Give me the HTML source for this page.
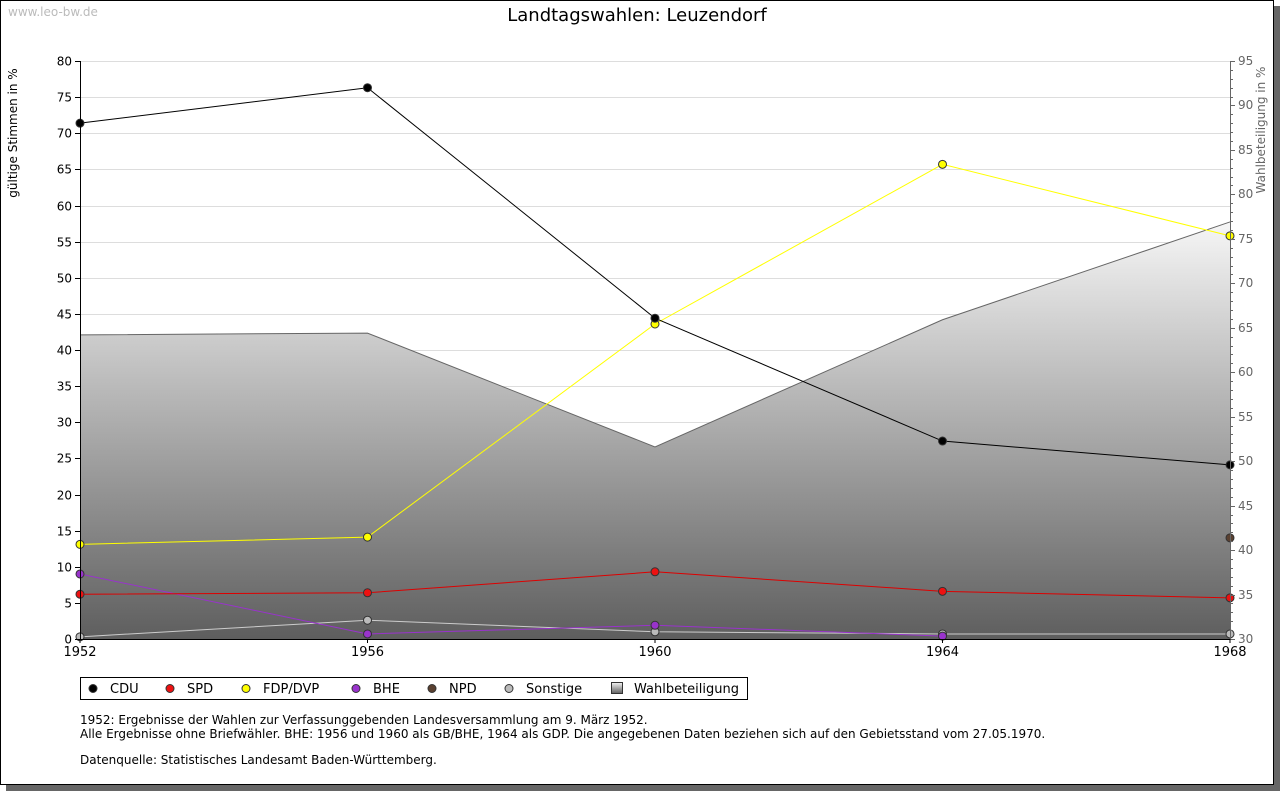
<!DOCTYPE html>
<html><head><meta charset="utf-8"><style>
body{margin:0;background:#fff;font-family:"DejaVu Sans","Liberation Sans",sans-serif;}
svg{display:block}
text{font-family:"DejaVu Sans","Liberation Sans",sans-serif}
</style></head><body>
<svg id="chart" width="1280" height="791" xmlns="http://www.w3.org/2000/svg">
<defs>
<linearGradient id="wg" x1="0" y1="0" x2="0" y2="1">
<stop offset="0" stop-color="#f6f6f6"/><stop offset="1" stop-color="#5e5e5e"/>
</linearGradient>
</defs>
<rect x="6" y="6" width="1274" height="785" fill="#666"/>
<rect x="0.5" y="0.5" width="1273" height="784" fill="#fff" stroke="#000"/>
<text x="8" y="16" font-size="12" fill="#bbb">www.leo-bw.de</text>
<text x="637" y="21" font-size="18" text-anchor="middle" fill="#000">Landtagswahlen: Leuzendorf</text>
<text transform="translate(17,133) rotate(-90)" font-size="12" text-anchor="middle">gültige Stimmen in %</text>
<text transform="translate(1265,130) rotate(-90)" font-size="12" fill="#666" text-anchor="middle">Wahlbeteiligung in %</text>
<g id="grid"></g><g id="area"></g><g id="series"></g><g id="axes"></g>
<g>
<rect x="80.5" y="677.5" width="667" height="22" fill="#fff" stroke="#000"/>
<g id="legend"></g>
</g>
<g font-size="12" fill="#000">
<text x="80" y="724">1952: Ergebnisse der Wahlen zur Verfassunggebenden Landesversammlung am 9. März 1952.</text>
<text x="80" y="738">Alle Ergebnisse ohne Briefwähler. BHE: 1956 und 1960 als GB/BHE, 1964 als GDP. Die angegebenen Daten beziehen sich auf den Gebietsstand vom 27.05.1970.</text>
<text x="80" y="764">Datenquelle: Statistisches Landesamt Baden-Württemberg.</text>
</g>
</svg>
<script>
const years=[1952,1956,1960,1964,1968];
const cdu=[71.4,76.3,44.4,27.4,24.1];
const spd=[6.2,6.4,9.3,6.6,5.7];
const fdp=[13.1,14.1,43.6,65.7,55.8];
const bhe=[9.0,0.7,1.9,0.4,null];
const npd=[null,null,null,null,14.0];
const sonst=[0.3,2.6,1.0,0.7,0.7];
const turnout=[64.2,64.4,51.6,65.9,76.9];
const leftTicks=[0,5,10,15,20,25,30,35,40,45,50,55,60,65,70,75,80];
const rightTicks=[30,35,40,45,50,55,60,65,70,75,80,85,90,95];
const NS='http://www.w3.org/2000/svg';
const X0=80,X1=1230,YB=639,YT=61;
const x=v=>X0+(v-1952)/(1968-1952)*(X1-X0);
const y=v=>YB-v/80*(YB-YT);
const y2=v=>YB-(v-30)/65*(YB-YT);
function mk(tag,attrs,parent){const e=document.createElementNS(NS,tag);for(const k in attrs)e.setAttribute(k,attrs[k]);parent.appendChild(e);return e;}
const g=document.getElementById('grid'),ax=document.getElementById('axes'),ar=document.getElementById('area'),se=document.getElementById('series'),lg=document.getElementById('legend');
leftTicks.forEach(t=>{
 const yy=Math.round(y(t))+0.5;
 if(t>0){const l=mk('line',{x1:X0,x2:X1,y1:yy,y2:yy,stroke:'#ddd'},g);}
 mk('line',{x1:X0-5,x2:X0,y1:yy,y2:yy,stroke:'#000'},ax);
 const tx=mk('text',{x:X0-8,y:yy+4,'font-size':12,'text-anchor':'end'},ax);tx.textContent=t;
 
});
for(let v=30;v<=95;v++){const yy=Math.round(y2(v))+0.5;mk('line',{x1:X1,x2:X1+(v%5?3:5),y1:yy,y2:yy,stroke:'#666'},ax);}
rightTicks.forEach(t=>{const tx=mk('text',{x:X1+8,y:Math.round(y2(t))+4,'font-size':12,fill:'#666'},ax);tx.textContent=t;
 });
// area
let d='M'+x(years[0])+','+YB;years.forEach((yr,i)=>d+=' L'+x(yr)+','+y2(turnout[i]));d+=' L'+x(years[years.length-1])+','+YB+' Z';
const a=mk('path',{d:d,fill:'url(#wg)'},ar);
let d2='';years.forEach((yr,i)=>d2+=(i?' L':'M')+x(yr)+','+y2(turnout[i]));
mk('path',{d:d2,fill:'none',stroke:'#666'},ar);
mk('line',{x1:X0+.5,x2:X0+.5,y1:YT,y2:YB,stroke:'#000'},ax);
mk('line',{x1:X1+.5,x2:X1+.5,y1:YT,y2:YB,stroke:'#666'},ax);
mk('line',{x1:X0,x2:X1,y1:YB+.5,y2:YB+.5,stroke:'#000'},ax);
years.forEach(yr=>{mk('line',{x1:x(yr),x2:x(yr),y1:YB,y2:YB+4,stroke:'#000'},ax);
 const tx=mk('text',{x:x(yr),y:656,'font-size':13,'text-anchor':'middle'},ax);tx.textContent=yr;
 });
const series=[
 {n:'CDU',v:cdu,c:'#000',m:'#000',k:'cdu'},
 {n:'SPD',v:spd,c:'#dd0000',m:'#ee1111',k:'spd'},
 {n:'FDP/DVP',v:fdp,c:'#ffff00',m:'#ffff00',k:'fdp'},
 {n:'BHE',v:bhe,c:'#9933cc',m:'#9933cc',k:'bhe'},
 {n:'NPD',v:npd,c:'#5a4030',m:'#5a4030',k:'npd'},
 {n:'Sonstige',v:sonst,c:'#cccccc',m:'#bbbbbb',k:'sonstige'}];
[5,3,1,2,0,4].forEach(si=>{const s=series[si];
 let p='',st=false;s.v.forEach((v,i)=>{if(v==null){st=false;return;}p+=(st?' L':' M')+x(years[i])+','+y(v);st=true;});
 if(p.trim()){const l=mk('path',{d:p,fill:'none',stroke:s.c,'stroke-width':1},se);}
 s.v.forEach((v,i)=>{if(v==null)return;const c=mk('circle',{cx:x(years[i]),cy:y(v),r:4,fill:s.m,stroke:'#333','stroke-width':1},se);
  });
});
const lx=[93,170,246,356,432,509,617];
series.forEach((s,i)=>{mk('circle',{cx:lx[i],cy:688.5,r:4,fill:s.m,stroke:'#333'},lg);
 const t=mk('text',{x:lx[i]+17,y:693,'font-size':13},lg);t.textContent=s.n;
 });
mk('rect',{x:611.5,y:682.5,width:11,height:11,fill:'url(#wg)',stroke:'#333'},lg);
const t=mk('text',{x:634,y:693,'font-size':13},lg);t.textContent='Wahlbeteiligung';

</script>
</body></html>
